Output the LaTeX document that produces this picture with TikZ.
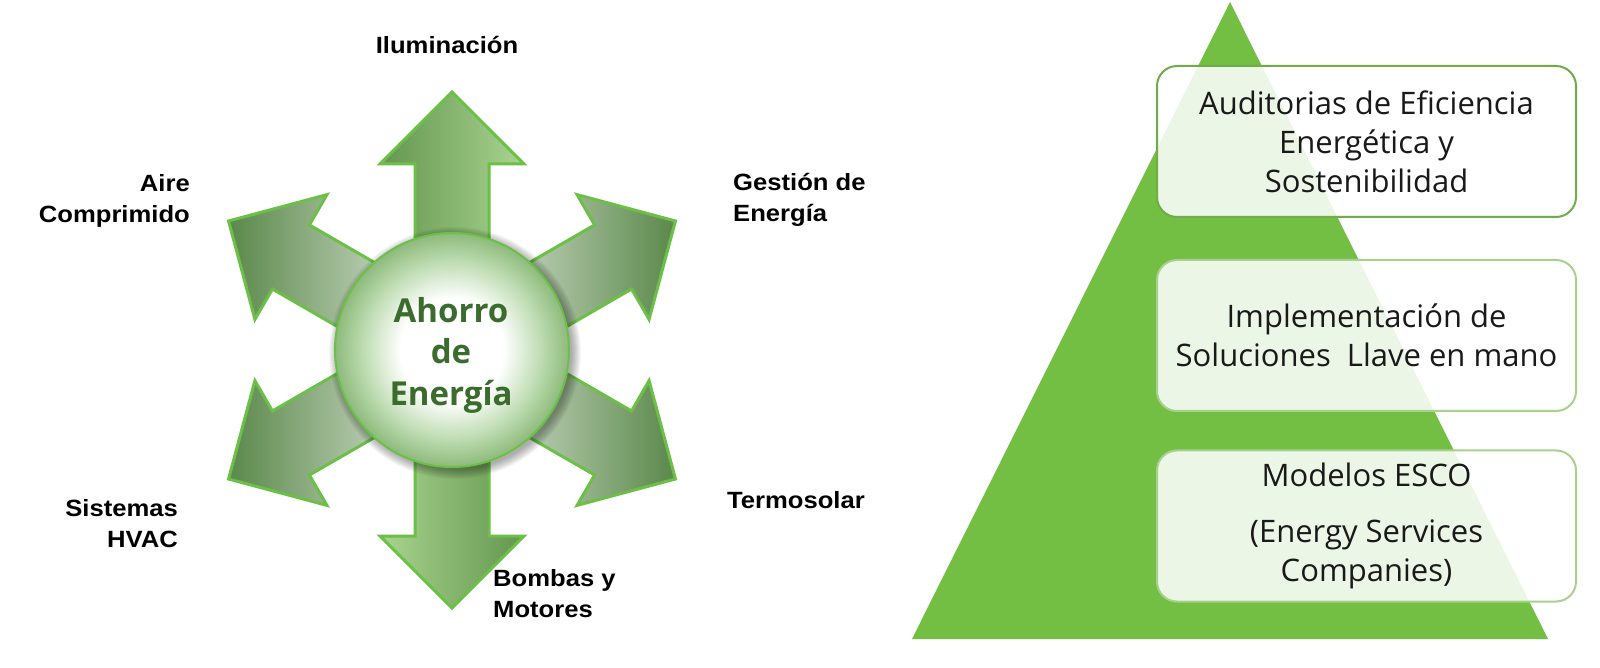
\documentclass[tikz,border=0pt]{standalone}
\usepackage{fontspec}
\newfontfamily\lblfont[FakeStretch=1.09]{Liberation Sans}
\newfontfamily\boxfont{Open Sans}
\newfontfamily\ctrfont{Open Sans}
\definecolor{tri}{RGB}{114,191,68}
\definecolor{arrowline}{RGB}{108,192,72}
\definecolor{adark}{RGB}{90,136,74}
\definecolor{alight}{RGB}{210,222,205}
\definecolor{vdark}{RGB}{100,150,80}
\definecolor{vlight}{RGB}{168,212,142}
\definecolor{ctrtext}{RGB}{59,108,46}
\definecolor{bline1}{RGB}{112,173,71}
\definecolor{bline2}{RGB}{169,209,142}
\definecolor{g1}{RGB}{190,220,178}
\definecolor{g2}{RGB}{125,175,105}
\definecolor{g3}{RGB}{84,142,66}
\pgfdeclareradialshading{ballg}{\pgfpoint{0bp}{0bp}}{color(0bp)=(white); color(11bp)=(white); color(19bp)=(g1); color(27bp)=(g2); color(33bp)=(g3); color(50bp)=(g3)}
\begin{document}
\begin{tikzpicture}[x=1pt,y=1pt,
  lbl/.style={font=\lblfont\bfseries\fontsize{23.5}{31}\selectfont, text=black, inner sep=0pt},
  arrowshape/.style={draw=arrowline, line width=3pt, line join=miter},
  pbox/.style={draw=#1, line width=2pt, rounded corners=20pt, fill=white, fill opacity=0.87, text opacity=1, minimum width=419pt, minimum height=151pt, align=center, font=\boxfont\fontsize{31}{39}\selectfont, text=black!90, inner sep=0pt}]
\useasboundingbox (0,0) rectangle (1600,667);
\fill[white] (0,0) rectangle (1600,667);

% arrows (right-pointing diagonals)
\foreach \ang in {30,330} {
  \begin{scope}[shift={(452,317)}, rotate=\ang]
    \path[arrowshape, left color=alight, right color=adark] (60,37) -- (186,37) -- (186,72) -- (258,0) -- (186,-72) -- (186,-37) -- (60,-37) -- cycle;
  \end{scope}
}
% left-pointing diagonals
\foreach \ang in {150,210} {
  \begin{scope}[shift={(452,317)}, rotate=\ang]
    \path[arrowshape, left color=adark, right color=alight] (60,37) -- (186,37) -- (186,72) -- (258,0) -- (186,-72) -- (186,-37) -- (60,-37) -- cycle;
  \end{scope}
}
% up arrow
\begin{scope}[shift={(452,317)}, rotate=90]
  \path[arrowshape, left color=vdark, right color=vlight] (60,37) -- (186,37) -- (186,72) -- (258,0) -- (186,-72) -- (186,-37) -- (60,-37) -- cycle;
\end{scope}
% down arrow
\begin{scope}[shift={(452,317)}, rotate=270]
  \path[arrowshape, left color=vlight, right color=vdark] (60,37) -- (186,37) -- (186,72) -- (258,0) -- (186,-72) -- (186,-37) -- (60,-37) -- cycle;
\end{scope}

% halo
\foreach \k in {1,...,10} {
  \fill[black, opacity=0.035] (455,314) circle ({116+\k});
}
\node[circle, minimum size=234pt, draw=arrowline, line width=2pt, shade, shading=ballg, inner sep=0pt] (ctr) at (452,317) {};
\node[align=center, font=\ctrfont\bfseries\fontsize{33}{41.5}\selectfont, text=ctrtext, inner sep=0pt] (ctrtxt) at (451,312) {Ahorro\\de\\Energía};

% labels
\node[lbl] (ilum) at (447,622) {Iluminación};
\node[lbl, anchor=east, align=right] (aire) at (190,466.5) {Aire\\Comprimido};
\node[lbl, anchor=west, align=left] (gest) at (733,467.5) {Gestión de\\Energía};
\node[lbl, anchor=west] (termo) at (727,167) {Termosolar};
\node[lbl, anchor=east, align=right] (hvac) at (178,143) {Sistemas\\HVAC};
\node[lbl, anchor=west, align=left] (bomb) at (493,73) {Bombas y\\Motores};

% pyramid
\fill[tri] (1230,665) -- (1548,28) -- (912,28) -- cycle;
\node[pbox=bline1] (b1) at (1366.5,525.5) {Auditorias de Eficiencia\\Energética y\\Sostenibilidad};
\node[pbox=bline2] (b2) at (1366.5,331.5) {Implementación de\\Soluciones~ Llave en mano};
\node[pbox=bline2] (b3) at (1366.5,141) {Modelos ESCO\\[17pt](Energy Services\\Companies)};
\end{tikzpicture}
\end{document}
